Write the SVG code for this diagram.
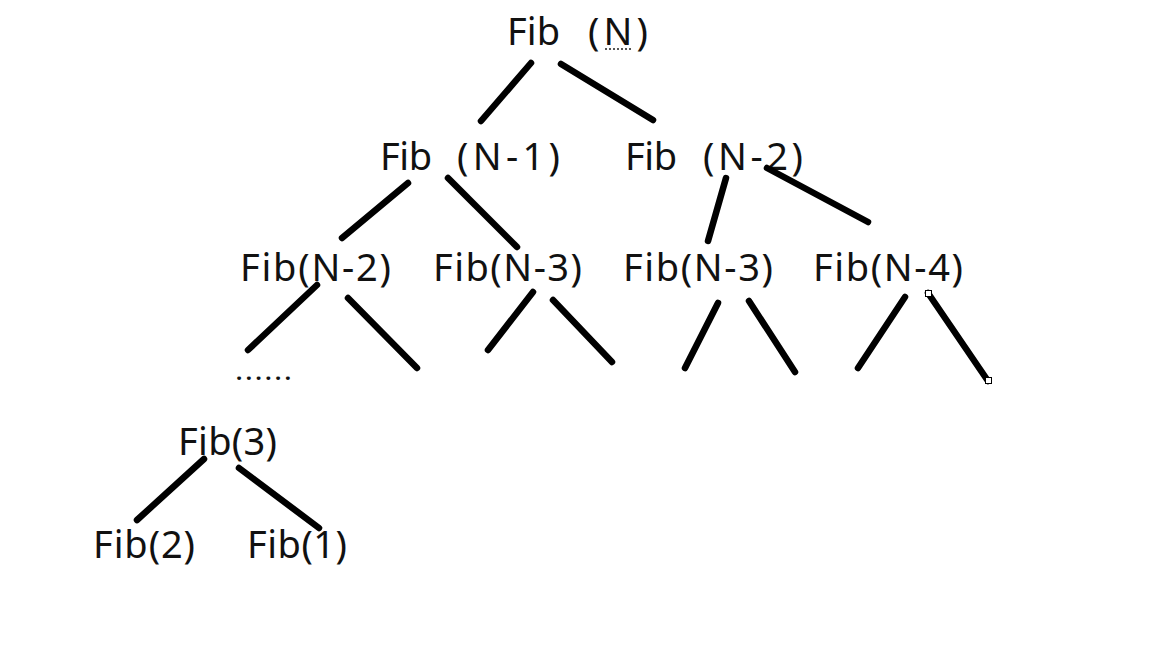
<svg xmlns="http://www.w3.org/2000/svg" width="1158" height="670" viewBox="0 0 1158 670">
<style>
text{font-family:"Noto Sans","Open Sans","DejaVu Sans",sans-serif;font-size:38px;fill:#111}
.c line{stroke:#000;stroke-width:6.5;stroke-linecap:round}
.h{fill:#fff;stroke:#000;stroke-width:1}
</style>
<rect width="1158" height="670" fill="#fff"/>
<g id="n-fibN"><text y="45"><tspan x="507" textLength="53">Fib</tspan><tspan x="588" textLength="60">(N)</tspan></text>
<line x1="605" y1="49" x2="633" y2="49" stroke="#555" stroke-width="2" stroke-dasharray="2,2"/></g>
<g id="n-fibN1"><text y="170"><tspan x="380" textLength="52">Fib</tspan><tspan x="457" textLength="103">(N-1)</tspan></text></g>
<g id="n-fibN2a"><text y="170"><tspan x="625" textLength="52">Fib</tspan><tspan x="703" textLength="100">(N-2)</tspan></text></g>
<g id="n-fibN2b"><text x="240" y="281" textLength="151">Fib(N-2)</text></g>
<g id="n-fibN3a"><text x="433" y="281" textLength="149">Fib(N-3)</text></g>
<g id="n-fibN3b"><text x="623" y="281" textLength="150">Fib(N-3)</text></g>
<g id="n-fibN4"><text x="813" y="281" textLength="150">Fib(N-4)</text></g>
<g id="n-dots"><text x="236" y="380" textLength="55" style="font-size:22px;font-weight:bold">......</text></g>
<g id="n-fib3"><text x="178" y="455" textLength="99">Fib(3)</text></g>
<g id="n-fib2"><text x="93" y="558" textLength="102">Fib(2)</text></g>
<g id="n-fib1"><text x="247" y="558" textLength="100">Fib(1)</text></g>
<g id="connectors" class="c">
<line x1="531" y1="63" x2="481" y2="121"/>
<line x1="561" y1="64" x2="653" y2="120"/>
<line x1="408" y1="183" x2="342" y2="238"/>
<line x1="448" y1="178" x2="517" y2="247"/>
<line x1="726" y1="178" x2="708" y2="241"/>
<line x1="767" y1="168" x2="868" y2="222"/>
<line x1="317" y1="285" x2="248" y2="350"/>
<line x1="348" y1="298" x2="417" y2="368"/>
<line x1="533" y1="292" x2="488" y2="350"/>
<line x1="553" y1="300" x2="612" y2="362"/>
<line x1="718" y1="303" x2="685" y2="368"/>
<line x1="749" y1="301" x2="795" y2="372"/>
<line x1="905" y1="297" x2="858" y2="368"/>
<line x1="928" y1="293" x2="988" y2="381"/>
<line x1="204" y1="459" x2="137" y2="520"/>
<line x1="239" y1="468" x2="319" y2="528"/>
<rect class="h" x="925.5" y="290.5" width="6" height="6"/>
<rect class="h" x="985.5" y="377.5" width="6" height="6"/>
</g>
</svg>
